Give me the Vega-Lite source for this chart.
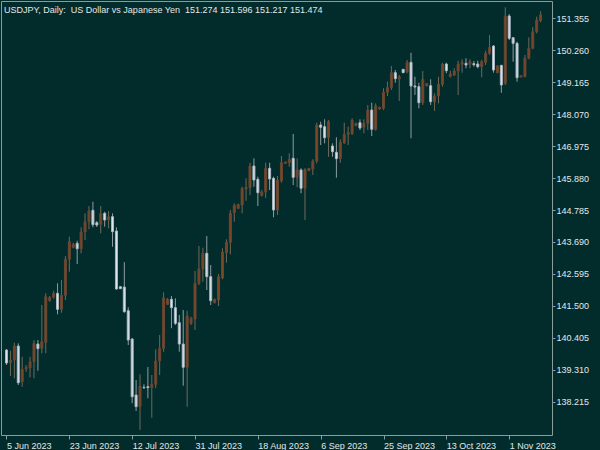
{
"$schema":"https://vega.github.io/schema/vega-lite/v6.json",
"width":551,"height":434,
"autosize":{"type":"none"},
"padding":{"left":1,"top":1,"right":48,"bottom":15},
"background":"#022b2b",
"config":{"view":{"stroke":"#8a9c9c","strokeWidth":1},"font":"Liberation Sans"},
"title":{"text":"USDJPY, Daily:\u00a0 US Dollar vs Japanese Yen\u00a0 151.274 151.596 151.217 151.474","anchor":"start","frame":"group","orient":"top","offset":-12,"dy":9,"baseline":"alphabetic","dx":3,"fontSize":9,"fontWeight":"normal","color":"#e2e8e8","font":"Liberation Sans"},
"data":{"values":[
{"d":"2023-06-05","i":0,"o":139.987,"h":140.021,"l":139.473,"c":139.541},
{"d":"2023-06-06","i":1,"o":139.552,"h":139.963,"l":139.096,"c":139.645},
{"d":"2023-06-07","i":2,"o":139.645,"h":140.237,"l":139.017,"c":140.124},
{"d":"2023-06-08","i":3,"o":140.124,"h":140.217,"l":138.788,"c":138.866},
{"d":"2023-06-09","i":4,"o":138.901,"h":139.758,"l":138.729,"c":139.326},
{"d":"2023-06-11","i":5,"o":139.336,"h":139.473,"l":139.244,"c":139.395},
{"d":"2023-06-12","i":6,"o":139.371,"h":139.758,"l":139.052,"c":139.587},
{"d":"2023-06-13","i":7,"o":139.587,"h":140.330,"l":139.017,"c":140.217},
{"d":"2023-06-14","i":8,"o":140.193,"h":140.330,"l":139.278,"c":140.032},
{"d":"2023-06-15","i":9,"o":140.045,"h":141.530,"l":139.874,"c":140.272},
{"d":"2023-06-16","i":10,"o":140.251,"h":141.930,"l":139.874,"c":141.815},
{"d":"2023-06-18","i":11,"o":141.677,"h":141.838,"l":141.643,"c":141.793},
{"d":"2023-06-19","i":12,"o":141.793,"h":142.020,"l":141.746,"c":141.930},
{"d":"2023-06-20","i":13,"o":141.930,"h":142.273,"l":141.210,"c":141.382},
{"d":"2023-06-21","i":14,"o":141.382,"h":142.386,"l":141.265,"c":141.862},
{"d":"2023-06-22","i":15,"o":141.862,"h":143.209,"l":141.701,"c":143.096},
{"d":"2023-06-23","i":16,"o":143.096,"h":143.871,"l":142.671,"c":143.699},
{"d":"2023-06-25","i":17,"o":143.507,"h":143.665,"l":143.472,"c":143.610},
{"d":"2023-06-26","i":18,"o":143.644,"h":143.733,"l":142.935,"c":143.459},
{"d":"2023-06-27","i":19,"o":143.459,"h":144.192,"l":143.301,"c":144.031},
{"d":"2023-06-28","i":20,"o":144.031,"h":144.672,"l":143.757,"c":144.385},
{"d":"2023-06-29","i":21,"o":144.385,"h":144.923,"l":144.124,"c":144.751},
{"d":"2023-06-30","i":22,"o":144.775,"h":145.070,"l":144.193,"c":144.282},
{"d":"2023-07-02","i":23,"o":144.350,"h":144.408,"l":144.203,"c":144.271},
{"d":"2023-07-03","i":24,"o":144.295,"h":144.923,"l":143.987,"c":144.672},
{"d":"2023-07-04","i":25,"o":144.672,"h":144.727,"l":144.214,"c":144.443},
{"d":"2023-07-05","i":26,"o":144.443,"h":144.751,"l":144.158,"c":144.556},
{"d":"2023-07-06","i":27,"o":144.556,"h":144.672,"l":143.528,"c":144.042},
{"d":"2023-07-07","i":28,"o":144.066,"h":144.192,"l":142.054,"c":142.078},
{"d":"2023-07-09","i":29,"o":142.157,"h":142.180,"l":142.078,"c":142.088},
{"d":"2023-07-10","i":30,"o":142.146,"h":142.999,"l":141.265,"c":141.300},
{"d":"2023-07-11","i":31,"o":141.334,"h":141.451,"l":140.158,"c":140.330},
{"d":"2023-07-12","i":32,"o":140.364,"h":140.398,"l":138.161,"c":138.387},
{"d":"2023-07-13","i":33,"o":138.445,"h":138.959,"l":137.897,"c":138.044},
{"d":"2023-07-14","i":34,"o":138.044,"h":139.155,"l":137.250,"c":138.754},
{"d":"2023-07-16","i":35,"o":138.710,"h":138.812,"l":138.651,"c":138.696},
{"d":"2023-07-17","i":36,"o":138.730,"h":139.405,"l":138.332,"c":138.696},
{"d":"2023-07-18","i":37,"o":138.696,"h":139.131,"l":137.668,"c":138.812},
{"d":"2023-07-19","i":38,"o":138.812,"h":140.011,"l":138.679,"c":139.611},
{"d":"2023-07-20","i":39,"o":139.611,"h":140.502,"l":139.131,"c":140.046},
{"d":"2023-07-21","i":40,"o":140.046,"h":141.965,"l":139.929,"c":141.780},
{"d":"2023-07-23","i":41,"o":141.553,"h":141.769,"l":141.530,"c":141.725},
{"d":"2023-07-24","i":42,"o":141.725,"h":141.838,"l":140.735,"c":141.437},
{"d":"2023-07-25","i":43,"o":141.437,"h":141.759,"l":140.844,"c":140.902},
{"d":"2023-07-26","i":44,"o":140.922,"h":141.187,"l":139.929,"c":140.193},
{"d":"2023-07-27","i":45,"o":140.193,"h":141.358,"l":138.764,"c":139.395},
{"d":"2023-07-28","i":46,"o":139.395,"h":141.334,"l":138.044,"c":141.153},
{"d":"2023-07-30","i":47,"o":140.902,"h":141.128,"l":140.844,"c":141.073},
{"d":"2023-07-31","i":48,"o":141.049,"h":142.695,"l":140.673,"c":142.273},
{"d":"2023-08-01","i":49,"o":142.273,"h":143.553,"l":142.215,"c":142.764},
{"d":"2023-08-02","i":50,"o":142.764,"h":143.494,"l":142.330,"c":143.302},
{"d":"2023-08-03","i":51,"o":143.302,"h":143.894,"l":142.044,"c":142.500},
{"d":"2023-08-04","i":52,"o":142.500,"h":142.900,"l":141.530,"c":141.677},
{"d":"2023-08-06","i":53,"o":141.608,"h":141.746,"l":141.587,"c":141.725},
{"d":"2023-08-07","i":54,"o":141.701,"h":142.593,"l":141.495,"c":142.500},
{"d":"2023-08-08","i":55,"o":142.455,"h":143.473,"l":142.410,"c":143.346},
{"d":"2023-08-09","i":56,"o":143.322,"h":143.781,"l":142.980,"c":143.679},
{"d":"2023-08-10","i":57,"o":143.679,"h":144.785,"l":143.267,"c":144.672},
{"d":"2023-08-11","i":58,"o":144.693,"h":145.015,"l":144.385,"c":144.947},
{"d":"2023-08-13","i":59,"o":144.840,"h":145.002,"l":144.820,"c":144.977},
{"d":"2023-08-14","i":60,"o":144.957,"h":145.584,"l":144.672,"c":145.530},
{"d":"2023-08-15","i":61,"o":145.505,"h":145.873,"l":145.104,"c":145.564},
{"d":"2023-08-16","i":62,"o":145.550,"h":146.406,"l":145.299,"c":146.294},
{"d":"2023-08-17","i":63,"o":146.294,"h":146.557,"l":145.584,"c":145.813},
{"d":"2023-08-18","i":64,"o":145.837,"h":145.926,"l":144.923,"c":145.378},
{"d":"2023-08-20","i":65,"o":145.276,"h":145.471,"l":145.252,"c":145.402},
{"d":"2023-08-21","i":66,"o":145.402,"h":146.406,"l":145.197,"c":146.215},
{"d":"2023-08-22","i":67,"o":146.215,"h":146.406,"l":145.471,"c":145.848},
{"d":"2023-08-23","i":68,"o":145.872,"h":145.926,"l":144.535,"c":144.785},
{"d":"2023-08-24","i":69,"o":144.785,"h":145.951,"l":144.614,"c":145.813},
{"d":"2023-08-25","i":70,"o":145.789,"h":146.636,"l":145.721,"c":146.406},
{"d":"2023-08-27","i":71,"o":146.386,"h":146.441,"l":146.372,"c":146.430},
{"d":"2023-08-28","i":72,"o":146.406,"h":146.729,"l":146.270,"c":146.523},
{"d":"2023-08-29","i":73,"o":146.557,"h":147.390,"l":145.642,"c":145.906},
{"d":"2023-08-30","i":74,"o":145.906,"h":146.557,"l":145.563,"c":146.180},
{"d":"2023-08-31","i":75,"o":146.156,"h":146.214,"l":145.358,"c":145.530},
{"d":"2023-09-01","i":76,"o":145.530,"h":146.214,"l":144.443,"c":146.180},
{"d":"2023-09-03","i":77,"o":146.132,"h":146.225,"l":146.122,"c":146.214},
{"d":"2023-09-04","i":78,"o":146.190,"h":146.523,"l":145.985,"c":146.465},
{"d":"2023-09-05","i":79,"o":146.465,"h":147.778,"l":146.386,"c":147.699},
{"d":"2023-09-06","i":80,"o":147.699,"h":147.812,"l":147.013,"c":147.620},
{"d":"2023-09-07","i":81,"o":147.640,"h":147.893,"l":147.071,"c":147.263},
{"d":"2023-09-08","i":82,"o":147.263,"h":147.870,"l":146.612,"c":147.825},
{"d":"2023-09-10","i":83,"o":146.979,"h":147.071,"l":146.612,"c":146.784},
{"d":"2023-09-11","i":84,"o":146.763,"h":147.277,"l":145.892,"c":146.544},
{"d":"2023-09-12","i":85,"o":146.544,"h":147.208,"l":146.406,"c":147.106},
{"d":"2023-09-13","i":86,"o":147.092,"h":147.778,"l":147.047,"c":147.380},
{"d":"2023-09-14","i":87,"o":147.380,"h":147.640,"l":147.013,"c":147.435},
{"d":"2023-09-15","i":88,"o":147.401,"h":147.928,"l":147.355,"c":147.860},
{"d":"2023-09-17","i":89,"o":147.674,"h":147.778,"l":147.664,"c":147.756},
{"d":"2023-09-18","i":90,"o":147.778,"h":147.893,"l":147.527,"c":147.596},
{"d":"2023-09-19","i":91,"o":147.620,"h":147.893,"l":147.414,"c":147.756},
{"d":"2023-09-20","i":92,"o":147.756,"h":148.384,"l":147.527,"c":148.212},
{"d":"2023-09-21","i":93,"o":148.212,"h":148.463,"l":147.321,"c":147.551},
{"d":"2023-09-22","i":94,"o":147.551,"h":148.442,"l":147.503,"c":148.360},
{"d":"2023-09-24","i":95,"o":148.247,"h":148.325,"l":148.222,"c":148.305},
{"d":"2023-09-25","i":96,"o":148.271,"h":148.956,"l":148.212,"c":148.819},
{"d":"2023-09-26","i":97,"o":148.819,"h":149.183,"l":148.692,"c":148.977},
{"d":"2023-09-27","i":98,"o":148.977,"h":149.720,"l":148.898,"c":149.491},
{"d":"2023-09-28","i":99,"o":149.491,"h":149.583,"l":149.148,"c":149.285},
{"d":"2023-09-29","i":100,"o":149.275,"h":149.412,"l":148.521,"c":149.354},
{"d":"2023-10-01","i":101,"o":149.607,"h":149.617,"l":149.480,"c":149.491},
{"d":"2023-10-02","i":102,"o":149.525,"h":149.926,"l":149.470,"c":149.847},
{"d":"2023-10-03","i":103,"o":149.847,"h":150.176,"l":147.243,"c":149.035},
{"d":"2023-10-04","i":104,"o":149.035,"h":149.354,"l":148.727,"c":149.001},
{"d":"2023-10-05","i":105,"o":149.011,"h":149.148,"l":148.270,"c":148.463},
{"d":"2023-10-06","i":106,"o":148.463,"h":149.549,"l":148.384,"c":149.264},
{"d":"2023-10-08","i":107,"o":149.045,"h":149.138,"l":149.018,"c":149.114},
{"d":"2023-10-09","i":108,"o":149.045,"h":149.264,"l":148.384,"c":148.497},
{"d":"2023-10-10","i":109,"o":148.497,"h":148.785,"l":148.178,"c":148.692},
{"d":"2023-10-11","i":110,"o":148.692,"h":149.354,"l":148.442,"c":149.093},
{"d":"2023-10-12","i":111,"o":149.093,"h":149.834,"l":149.011,"c":149.789},
{"d":"2023-10-13","i":112,"o":149.789,"h":149.834,"l":149.470,"c":149.559},
{"d":"2023-10-15","i":113,"o":149.354,"h":149.559,"l":149.331,"c":149.446},
{"d":"2023-10-16","i":114,"o":149.412,"h":149.642,"l":149.377,"c":149.549},
{"d":"2023-10-17","i":115,"o":149.549,"h":149.902,"l":148.727,"c":149.789},
{"d":"2023-10-18","i":116,"o":149.779,"h":149.950,"l":149.491,"c":149.847},
{"d":"2023-10-19","i":117,"o":149.813,"h":149.985,"l":149.642,"c":149.755},
{"d":"2023-10-20","i":118,"o":149.779,"h":149.950,"l":149.642,"c":149.868},
{"d":"2023-10-22","i":119,"o":149.799,"h":149.892,"l":149.696,"c":149.765},
{"d":"2023-10-23","i":120,"o":149.789,"h":149.902,"l":149.642,"c":149.696},
{"d":"2023-10-24","i":121,"o":149.696,"h":149.926,"l":149.331,"c":149.868},
{"d":"2023-10-25","i":122,"o":149.847,"h":150.245,"l":149.755,"c":150.156},
{"d":"2023-10-26","i":123,"o":150.156,"h":150.782,"l":150.097,"c":150.362},
{"d":"2023-10-27","i":124,"o":150.405,"h":150.440,"l":149.491,"c":149.583},
{"d":"2023-10-29","i":125,"o":149.491,"h":149.755,"l":149.470,"c":149.720},
{"d":"2023-10-30","i":126,"o":149.744,"h":149.755,"l":148.804,"c":149.069},
{"d":"2023-10-31","i":127,"o":149.127,"h":151.732,"l":149.069,"c":151.434},
{"d":"2023-11-01","i":128,"o":151.434,"h":151.502,"l":150.611,"c":150.669},
{"d":"2023-11-02","i":129,"o":150.690,"h":150.703,"l":149.867,"c":150.498},
{"d":"2023-11-03","i":130,"o":150.498,"h":150.553,"l":149.182,"c":149.319},
{"d":"2023-11-05","i":131,"o":149.343,"h":149.395,"l":149.333,"c":149.388},
{"d":"2023-11-06","i":132,"o":149.354,"h":150.097,"l":149.333,"c":149.984},
{"d":"2023-11-07","i":133,"o":149.984,"h":150.704,"l":149.950,"c":150.327},
{"d":"2023-11-08","i":134,"o":150.327,"h":151.046,"l":150.292,"c":150.896},
{"d":"2023-11-09","i":135,"o":150.896,"h":151.410,"l":150.841,"c":151.297},
{"d":"2023-11-10","i":136,"o":151.274,"h":151.596,"l":151.217,"c":151.474}
]},
"encoding":{
 "x":{"field":"i","type":"quantitative","scale":{"domain":[-0.125,137.625],"nice":false,"zero":false},
  "axis":{"title":null,"orient":"bottom","values":[0,16,32,48,64,80,96,112,128],
   "labelExpr":"['5 Jun 2023','23 Jun 2023','12 Jul 2023','31 Jul 2023','18 Aug 2023','6 Sep 2023','25 Sep 2023','13 Oct 2023','1 Nov 2023'][round(datum.value/16)]",
   "labelAlign":"left","labelBaseline":"top","labelPadding":2,"labelFontSize":9,"labelFont":"Liberation Sans","labelColor":"#e2e8e8","labelOverlap":false,"labelFlush":false,
   "tickSize":4,"tickColor":"#8a9c9c","domain":false,"grid":false}}
},
"layer":[
 {"mark":{"type":"rule","strokeWidth":1},
  "encoding":{
   "y":{"field":"l","type":"quantitative","scale":{"domain":[137.075,151.948],"nice":false,"zero":false},
    "axis":{"title":null,"orient":"right","values":[151.355,150.26,149.165,148.07,146.975,145.88,144.785,143.69,142.595,141.5,140.405,139.31,138.215],"format":".3f","labelFontSize":9,"labelFont":"Liberation Sans","labelColor":"#e2e8e8","labelPadding":1,"tickSize":3,"tickColor":"#8a9c9c","domain":false,"grid":false,"labelOverlap":false,"labelFlush":false}},
   "y2":{"field":"h"},
   "color":{"condition":{"test":"datum.c >= datum.o","value":"#6f6a5c"},"value":"#8e9ea2"}}},
 {"mark":{"type":"bar","orient":"vertical","size":2,"strokeWidth":1},
  "encoding":{
   "y":{"field":"o","type":"quantitative","axis":{"title":null,"orient":"right","values":[151.355,150.26,149.165,148.07,146.975,145.88,144.785,143.69,142.595,141.5,140.405,139.31,138.215],"format":".3f","labelFontSize":9,"labelFont":"Liberation Sans","labelColor":"#e2e8e8","labelPadding":1,"tickSize":3,"tickColor":"#8a9c9c","domain":false,"grid":false,"labelOverlap":false,"labelFlush":false}},
   "y2":{"field":"c"},
   "fill":{"condition":{"test":"datum.c >= datum.o","value":"#7c4826"},"value":"#dfe6ee"},
   "stroke":{"condition":{"test":"datum.c >= datum.o","value":"#6a4630"},"value":"#aab6c0"}}}
]
}
